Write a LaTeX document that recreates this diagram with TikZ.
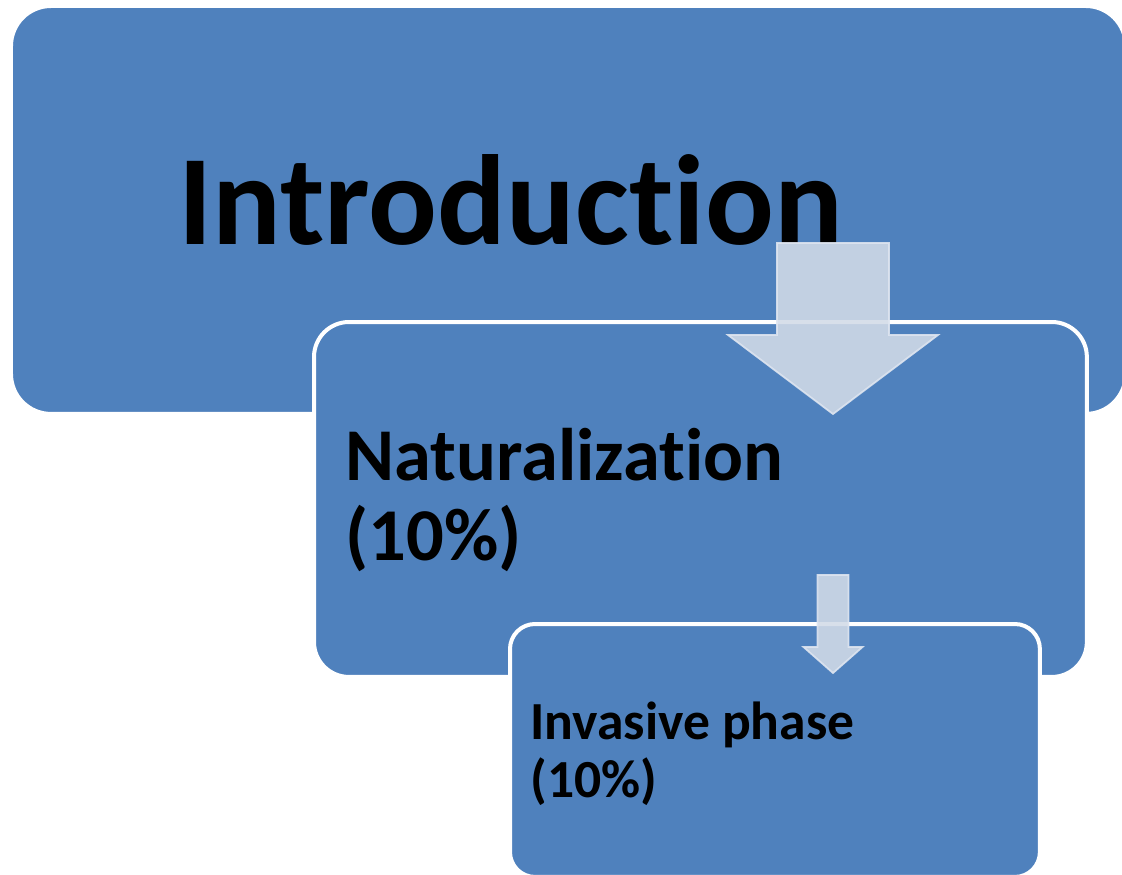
\documentclass[tikz,border=0pt]{standalone}
\usepackage{fontspec}
\setmainfont{Carlito}[Ligatures=NoCommon]
\usepackage{xcolor}
\usetikzlibrary{positioning}
\definecolor{stageblue}{RGB}{79,129,189}
\definecolor{arrowfill}{RGB}{210,219,232}
\definecolor{arrowline}{RGB}{222,229,240}

\begin{document}
\begin{tikzpicture}[x=0.02cm,y=-0.02cm,
	stage/.style={fill=stageblue,draw=white,line width=0.08cm,anchor=north west,inner sep=0},
	blockarrow/.style={fill=arrowfill,draw=arrowline,line width=0.035cm,fill opacity=0.88,draw opacity=0.9,line join=miter},
	label/.style={anchor=base west,inner sep=0,align=left,font=\bfseries}]
\useasboundingbox (0,0) rectangle (1122,875);

\node[stage,minimum width=22.3cm,minimum height=8.16cm,rounded corners=0.8cm] (intro) at (9,4) {};
\node[label,font=\bfseries\fontsize{73pt}{79pt}\selectfont] (introtext) at (178,244) {Introduction};

\node[stage,minimum width=15.46cm,minimum height=7.1cm,rounded corners=0.7cm] (natur) at (312,320) {};
\node[label,font=\bfseries\fontsize{42.4pt}{45.5pt}\selectfont] (naturtext) at (345,560) {Naturalization\\(10\%)};

\coordinate (arrA) at (777,243);
\draw[blockarrow] (arrA) -- ++(112,0) -- ++(0,92) -- ++(49,0) -- ++(-105,79) -- ++(-105,-79) -- ++(49,0) -- cycle;

\node[stage,minimum width=10.6cm,minimum height=5.06cm,rounded corners=0.5cm] (invas) at (508,622) {};
\node[label,font=\bfseries\fontsize{30.5pt}{33pt}\selectfont] (invastext) at (530,797) {Invasive phase\\(10\%)};

\coordinate (arrB) at (817.5,575);
\draw[blockarrow] (arrB) -- ++(31,0) -- ++(0,72) -- ++(14,0) -- ++(-29.5,26) -- ++(-29.5,-26) -- ++(14,0) -- cycle;

\end{tikzpicture}
\end{document}
